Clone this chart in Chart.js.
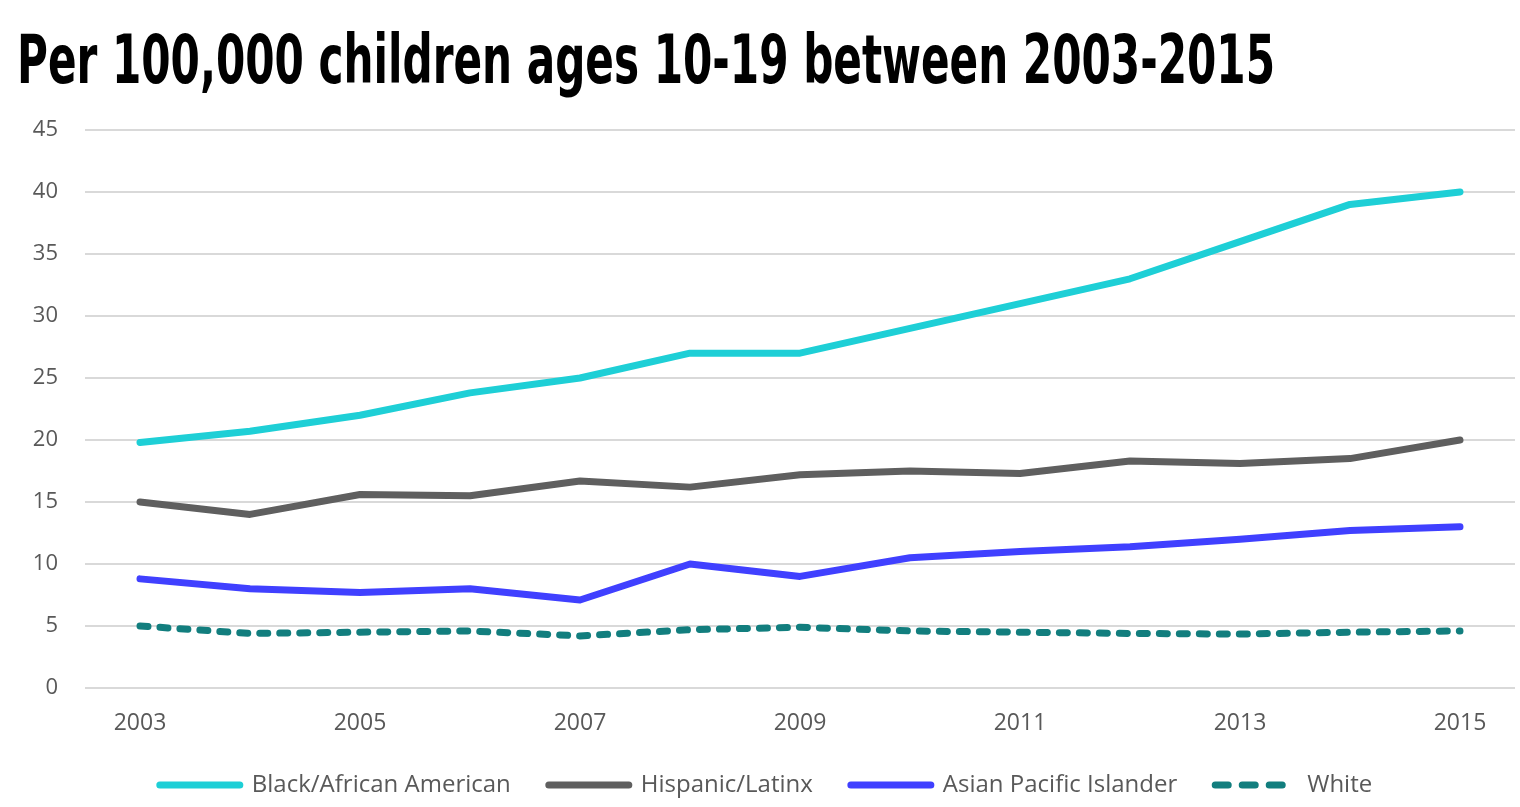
<!DOCTYPE html>
<html>
<head>
<meta charset="utf-8">
<script src="https://cdn.jsdelivr.net/npm/chart.js@4/dist/chart.umd.min.js"></script>
<style>
  html, body { margin: 0; padding: 0; background: #fff; }
  #wrap { width: 1520px; height: 807px; }
</style>
</head>
<body>
<div id="wrap"><canvas id="rate-chart"></canvas></div>
<script>
const years = ['2003', '2004', '2005', '2006', '2007', '2008', '2009', '2010', '2011', '2012', '2013', '2014', '2015'];

const blackRate = [19.8, 20.7, 22.0, 23.8, 25.0, 27.0, 27.0, 29.0, 31.0, 33.0, 36.0, 39.0, 40.0];
const hispanicRate = [15.0, 14.0, 15.6, 15.5, 16.7, 16.2, 17.2, 17.5, 17.3, 18.3, 18.1, 18.5, 20.0];
const asianRate = [8.8, 8.0, 7.7, 8.0, 7.1, 10.0, 9.0, 10.5, 11.0, 11.4, 12.0, 12.7, 13.0];
const whiteRate = [5.0, 4.4, 4.5, 4.6, 4.2, 4.7, 4.9, 4.6, 4.5, 4.4, 4.35, 4.5, 4.6];

const yTicks = [0, 5, 10, 15, 20, 25, 30, 35, 40, 45];

const titleText = 'Per 100,000 children ages 10-19 between 2003-2015';

const labelGrey = '#595959';
const gridGrey = '#d9d9d9';
const fontFamily = "'Open Sans', 'Noto Sans', sans-serif";

// narrow headline, squeezed horizontally to look like the condensed original
const condensedTitle = {
  id: 'condensedTitle',
  afterDraw(chart) {
    const { ctx } = chart;
    ctx.save();
    ctx.font = "bold 68px 'DejaVu Sans Condensed', 'DejaVu Sans', sans-serif";
    ctx.fillStyle = '#000';
    ctx.textBaseline = 'alphabetic';
    const squeeze = 1258 / ctx.measureText(titleText).width;
    ctx.translate(17, 83);
    ctx.scale(squeeze, 1);
    ctx.fillText(titleText, 0, 0);
    ctx.restore();
  },
};

function series(label, values, color, dash) {
  return {
    label,
    data: values,
    borderColor: color,
    backgroundColor: color,
    borderWidth: 7,
    borderCapStyle: 'round',
    borderJoinStyle: 'round',
    borderDash: dash || [],
    pointRadius: 0,
    pointHoverRadius: 0,
    tension: 0,
    fill: false,
  };
}

const data = {
  labels: years,
  datasets: [
    series('Black/African American', blackRate, '#1ecfd6'),
    series('Hispanic/Latinx', hispanicRate, '#5f5f5f'),
    series('Asian Pacific Islander', asianRate, '#4040ff'),
    series('White', whiteRate, '#127e7e', [8, 12]),
  ],
};

// point-style legend items drop the dash, so put it back (a bit longer for the swatch)
function legendLabels(chart) {
  return Chart.defaults.plugins.legend.labels.generateLabels(chart).map((item) => {
    const ds = chart.data.datasets[item.datasetIndex];
    return {
      ...item,
      lineWidth: 7,
      lineCap: 'round',
      lineDash: ds.borderDash.length ? [13, 14] : [],
    };
  });
}

const config = {
  type: 'line',
  data,
  plugins: [condensedTitle],
  options: {
    animation: false,
    responsive: true,
    maintainAspectRatio: false,
    layout: {
      padding: { left: 17, right: 5, top: 130, bottom: 0 },
    },
    plugins: {
      tooltip: { enabled: false },
      legend: {
        position: 'bottom',
        labels: {
          usePointStyle: true,
          pointStyle: 'line',
          pointStyleWidth: 80,
          boxHeight: 24,
          padding: 38,
          color: labelGrey,
          font: { size: 24, family: fontFamily },
          generateLabels: legendLabels,
        },
      },
    },
    scales: {
      x: {
        offset: true,
        grid: { display: false },
        border: { display: false },
        afterFit: (scale) => {
          scale.height = 47;
        },
        ticks: {
          autoSkip: false,
          maxRotation: 0,
          padding: 14,
          color: labelGrey,
          font: { size: 23, family: fontFamily },
          callback: (value, index) => (index % 2 === 0 ? years[index] : ''),
        },
      },
      y: {
        min: 0,
        max: 45,
        afterBuildTicks: (scale) => {
          scale.ticks = yTicks.map((v) => ({ value: v }));
        },
        afterFit: (scale) => {
          scale.width = 68;
        },
        grid: { color: gridGrey, lineWidth: 2, drawTicks: false },
        border: { display: false },
        ticks: {
          padding: 27,
          color: labelGrey,
          font: { size: 22, family: fontFamily },
        },
      },
    },
  },
};

const rateChart = new Chart(document.getElementById('rate-chart'), config);
</script>
</body>
</html>
